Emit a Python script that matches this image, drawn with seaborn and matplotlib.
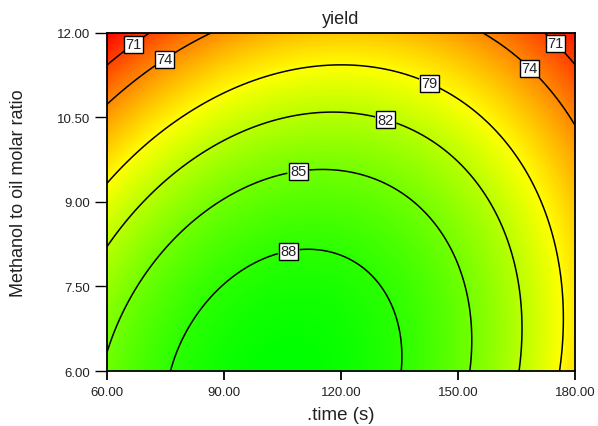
import numpy as np
import pandas as pd
import matplotlib
matplotlib.use("Agg")
import matplotlib.pyplot as plt
import seaborn as sns

# Quadratic response-surface model (coded factors A=(time-120)/60, B=(ratio-9)/3)
term_names = ["Intercept", "A", "B", "AB", "A^2", "B^2"]
term_coefs = [86.3, -1.68, -6.4, 2.09, -8.0, -3.2]

time_range = [60.0, 180.0]
ratio_range = [6.0, 12.0]
x_ticks = [60.0, 90.0, 120.0, 150.0, 180.0]
y_ticks = [6.0, 7.5, 9.0, 10.5, 12.0]
contour_levels = [71, 74, 79, 82, 85, 88]

title = "yield"
x_label = ".time (s)"
y_label = "Methanol to oil molar ratio"

sns.set_theme(style="ticks")
plt.rcParams["font.family"] = ["Liberation Sans", "DejaVu Sans"]

t = np.linspace(time_range[0], time_range[1], 300)
r = np.linspace(ratio_range[0], ratio_range[1], 300)
T, R = np.meshgrid(t, r)
A = (T - 120.0) / 60.0
B = (R - 9.0) / 3.0
c = dict(zip(term_names, term_coefs))
Y = (c["Intercept"] + c["A"] * A + c["B"] * B + c["AB"] * A * B
     + c["A^2"] * A ** 2 + c["B^2"] * B ** 2)

cmap = sns.blend_palette(["#ff0000", "#ffff00", "#00ff00"], as_cmap=True)

fig = plt.figure(figsize=(5.98, 4.27), dpi=100)
ax = fig.add_axes([0.1789, 0.1288, 0.7826, 0.7916])
ax.contourf(T, R, Y, levels=np.linspace(Y.min(), Y.max(), 200), cmap=cmap)
cs = ax.contour(T, R, Y, levels=contour_levels, colors="black", linewidths=1.1)

label_pos = [(66.2, 11.86), (74.6, 11.54), (175.6, 11.86), (168.7, 11.40),
             (143.6, 11.25), (131.8, 10.53), (109.0, 9.57), (106.4, 8.20)]
txts = ax.clabel(cs, fmt="%d", fontsize=10.5, inline=True, inline_spacing=3,
                 manual=label_pos)
for tx in txts:
    tx.set_rotation(0)
    tx.set_bbox(dict(facecolor="white", edgecolor="black", pad=1.0, linewidth=1.0))
    tx.set_color("#222222")

ax.set_xlim(time_range)
ax.set_ylim(ratio_range)
ax.set_xticks(x_ticks)
ax.set_yticks(y_ticks)
ax.set_xticklabels([f"{v:.2f}" for v in x_ticks], fontsize=9.5, color="#222222")
ax.set_yticklabels([f"{v:.2f}" for v in y_ticks], fontsize=9.5, color="#222222")
ax.tick_params(axis="x", direction="out", length=6.5, width=1.3, pad=4, color="black")
ax.tick_params(axis="y", direction="out", length=9, width=1.0, pad=3, color="black")
for s in ax.spines.values():
    s.set_color("black")
    s.set_linewidth(1.3)

ax.set_title(title, fontsize=13, pad=7, color="#222222")
ax.set_xlabel(x_label, fontsize=13.5, labelpad=6, color="#222222")
ax.set_ylabel(y_label, fontsize=13, color="#222222")
ax.yaxis.set_label_coords(-0.171, 0.53)

fig.savefig("out.png", dpi=100)
